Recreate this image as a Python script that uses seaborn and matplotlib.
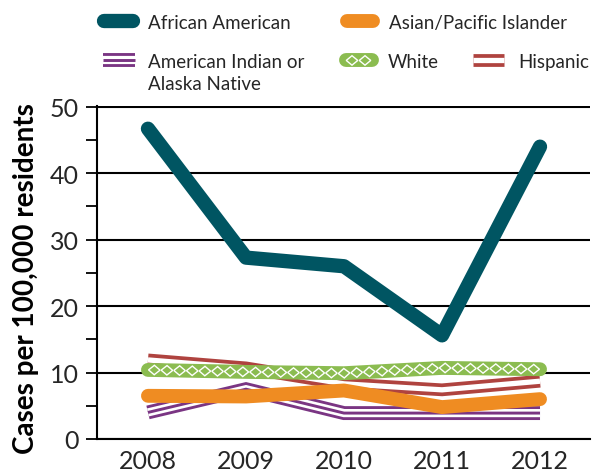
import numpy as np
import pandas as pd
import matplotlib
matplotlib.use("Agg")
import matplotlib.pyplot as plt
import seaborn as sns
from matplotlib import patheffects as pe
from matplotlib.path import Path
from matplotlib.transforms import IdentityTransform

# ---------------- data ----------------
years = [2008, 2009, 2010, 2011, 2012]
african_american = [46.7, 27.3, 26.0, 15.6, 44.0]
asian_pacific = [6.5, 6.4, 7.3, 4.8, 6.0]
american_indian = [4.0, 7.5, 3.9, 3.9, 3.9]
white = [10.4, 10.1, 9.9, 10.7, 10.5]
hispanic = [11.9, 10.7, 8.3, 7.4, 8.7]

labels = {
    "aa": "African American",
    "api": "Asian/Pacific Islander",
    "aian": "American Indian or",
    "aian2": "Alaska Native",
    "white": "White",
    "hisp": "Hispanic",
}
y_ticks = [0, 10, 20, 30, 40, 50]
y_label = "Cases per 100,000 residents"

df = pd.DataFrame({
    "year": years,
    "aa": african_american,
    "api": asian_pacific,
    "aian": american_indian,
    "white": white,
    "hisp": hispanic,
})

# ---------------- style ----------------
TEAL = "#005562"
ORANGE = "#EF8C22"
PURPLE = "#7A3583"
GREEN = "#8BBC50"
RED = "#AF433F"

sns.set_style("white")
plt.rcParams["font.family"] = ["Lato", "DejaVu Sans"]


class DiamondChain(pe.AbstractPathEffect):
    """Draws a chain of white diamond outlines along the path."""

    def __init__(self, length=9.0, height=7.2, color="white", lw=1.0):
        super().__init__()
        self.length = length
        self.height = height
        self.color = color
        self.lw = lw

    def draw_path(self, renderer, gc, tpath, affine, rgbFace=None):
        v = affine.transform(tpath.vertices)
        if len(v) < 2:
            return
        d = np.diff(v, axis=0)
        seg = np.hypot(d[:, 0], d[:, 1])
        if not (seg > 1e-9).any():
            return
        cum = np.concatenate([[0], np.cumsum(seg)])
        total = cum[-1]
        hl = renderer.points_to_pixels(self.length) / 2.0
        hh = renderer.points_to_pixels(self.height) / 2.0
        n = max(int(round(total / (2 * hl))), 1)
        step = total / n
        gc0 = renderer.new_gc()
        gc0.copy_properties(gc)
        gc0.set_foreground(self.color)
        gc0.set_linewidth(self.lw)
        gc0.set_joinstyle("miter")
        gc0.set_capstyle("butt")
        for i in range(n):
            s = (i + 0.5) * step
            k = int(np.searchsorted(cum, s, side="right") - 1)
            k = min(max(k, 0), len(seg) - 1)
            while seg[k] <= 1e-9 and k < len(seg) - 1:
                k += 1
            t = (s - cum[k]) / seg[k]
            p = v[k] + t * d[k]
            u = d[k] / seg[k]
            nrm = np.array([-u[1], u[0]])
            a = hl * 0.92
            b = hh * 0.92
            pts = [p + u * a, p + nrm * b, p - u * a, p - nrm * b, p + u * a]
            path = Path(pts, [Path.MOVETO, Path.LINETO, Path.LINETO, Path.LINETO, Path.CLOSEPOLY])
            renderer.draw_path(gc0, path, IdentityTransform())
        gc0.restore()


W, H = 592, 477
fig = plt.figure(figsize=(W / 100, H / 100), dpi=100)
ax = fig.add_axes([97 / W, 1 - 440 / H, (590 - 97) / W, (440 - 107) / H])

# American Indian: triple stripe
sns.lineplot(data=df, x="year", y="aian", ax=ax, color=PURPLE, lw=10, legend=False,
             solid_capstyle="butt", solid_joinstyle="miter",
             path_effects=[pe.Stroke(linewidth=10, foreground=PURPLE, capstyle="butt"),
                           pe.Stroke(linewidth=5.9, foreground="white", capstyle="butt"),
                           pe.Stroke(linewidth=2.1, foreground=PURPLE, capstyle="butt")])
line_aian = ax.lines[-1]

# Hispanic: double stripe
sns.lineplot(data=df, x="year", y="hisp", ax=ax, color=RED, lw=9.2, legend=False,
             solid_capstyle="butt", solid_joinstyle="miter",
             path_effects=[pe.Stroke(linewidth=9.2, foreground=RED, capstyle="butt"),
                           pe.Stroke(linewidth=3.8, foreground="white", capstyle="butt")])
line_hisp = ax.lines[-1]

# White: green with diamond chain
sns.lineplot(data=df, x="year", y="white", ax=ax, color=GREEN, lw=10, legend=False,
             solid_capstyle="round", solid_joinstyle="round",
             path_effects=[pe.Normal(), DiamondChain(length=9.0, height=7.4, color="white", lw=1.0)])
line_white = ax.lines[-1]

# Asian / Pacific Islander
sns.lineplot(data=df, x="year", y="api", ax=ax, color=ORANGE, lw=10, legend=False,
             solid_capstyle="round", solid_joinstyle="round")
line_api = ax.lines[-1]

# African American
sns.lineplot(data=df, x="year", y="aa", ax=ax, color=TEAL, lw=10.3, legend=False,
             solid_capstyle="round", solid_joinstyle="round")
line_aa = ax.lines[-1]

# ---------------- axes ----------------
ax.set_xlim(years[0] - 0.52, years[-1] + 0.51)
ax.set_ylim(0, 50.12)
ax.set_xticks(years)
ax.set_xticklabels([str(y) for y in years])
ax.set_yticks(y_ticks)
ax.set_yticks([5, 15, 25, 35, 45], minor=True)
ax.set_xlabel("")
ax.set_ylabel(y_label, fontsize=20, fontweight="bold", color="black")
ax.yaxis.set_label_coords(-0.118, 0.485)

ax.yaxis.grid(True, which="major", color="black", lw=1.5)
ax.xaxis.grid(False)
ax.set_axisbelow(True)
for sp in ["top", "right"]:
    ax.spines[sp].set_visible(False)
for sp in ["left", "bottom"]:
    ax.spines[sp].set_color("black")
    ax.spines[sp].set_linewidth(1.5)

ax.tick_params(axis="y", which="both", direction="out", length=8, width=1.3,
               color="black", labelsize=18, pad=5, left=True)
ax.tick_params(axis="x", which="both", length=0, labelsize=18, pad=7)

# ---------------- legend ----------------
FS = 13.5
fs_px = FS * 100 / 72
entries = [
    (line_aa, labels["aa"], 104.5, 23.5, 29, 148),
    (line_api, labels["api"], 346.5, 23.5, 26, 389),
    (line_aian, labels["aian"], 103, 62.5, 32, 148),
    (line_white, labels["white"], 345.5, 62.5, 26, 388),
    (line_hisp, labels["hisp"], 473, 62.5, 31, 518),
]
for h, lab, x0, yc, ln, tx in entries:
    fig.legend(handles=[h], labels=[lab], loc="center left",
               bbox_to_anchor=(x0 / W, 1 - yc / H), frameon=False,
               borderpad=0, borderaxespad=0, handlelength=ln / fs_px,
               handletextpad=(tx - x0 - ln) / fs_px, fontsize=FS)
fig.text(148 / W, 1 - 90 / H, labels["aian2"], fontsize=FS, ha="left", va="baseline")

fig.savefig("out.png", dpi=100)
